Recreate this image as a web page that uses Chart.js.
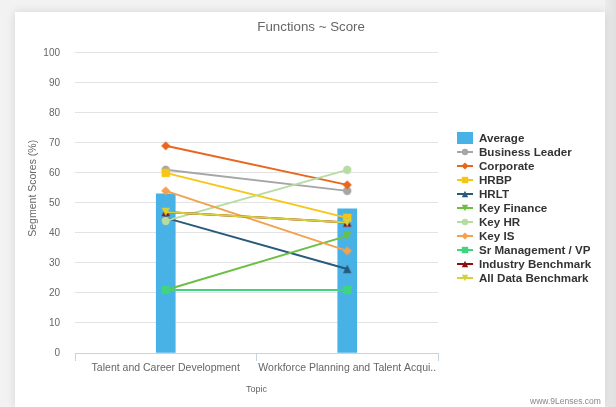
<!DOCTYPE html>
<html>
<head>
<meta charset="utf-8">
<script src="https://cdn.jsdelivr.net/npm/chart.js@4/dist/chart.umd.min.js"></script>
<style>
  html, body { margin:0; padding:0; width:616px; height:407px; overflow:hidden; background:#f2f2f2; }
  #strip { position:absolute; left:605px; top:0; width:11px; height:407px; background:linear-gradient(to right,#ececec,#e0e0e0); }
  #card { position:absolute; left:15px; top:12px; width:590px; height:395px; background:#fff; box-shadow:0 0 9px rgba(0,0,0,0.12); }
  #c { position:absolute; left:0; top:0; }
  #wm { position:absolute; left:515px; top:384px; font:8.5px Arial, 'Liberation Sans', sans-serif; color:#888; line-height:11px; white-space:nowrap; }
</style>
</head>
<body>
<div id="strip"></div>
<div id="card">
  <canvas id="c" width="590" height="395"></canvas>
  <div id="wm">www.9Lenses.com</div>
</div>
<script>
// ---- data ----
const categories = ['Talent and Career Development', 'Workforce Planning and Talent Acqui..'];
const average = [53, 48];
const businessLeader = [61, 54];
const corporate = [69, 56];
const hrbp = [60, 45];
const hrlt = [45, 28];
const keyFinance = [21, 39];
const keyHR = [44, 61];
const keyIS = [54, 34];
const srManagement = [21, 21];
const industryBenchmark = [47, 43.5];
const allDataBenchmark = [47, 43.5];
const yTicks = [0, 10, 20, 30, 40, 50, 60, 70, 80, 90, 100];

// ---- styles ----
const F = "Arial, 'Liberation Sans', sans-serif";
const lineDefs = [
  { label: 'Business Leader',     data: businessLeader,    color: '#a6a6a6', shape: 'circle'   },
  { label: 'Corporate',           data: corporate,         color: '#e8661e', shape: 'diamond'  },
  { label: 'HRBP',                data: hrbp,              color: '#f7c516', shape: 'square'   },
  { label: 'HRLT',                data: hrlt,              color: '#2a5a7b', shape: 'triUp'    },
  { label: 'Key Finance',         data: keyFinance,        color: '#6cbf45', shape: 'triDown'  },
  { label: 'Key HR',              data: keyHR,             color: '#b6dca2', shape: 'circle'   },
  { label: 'Key IS',              data: keyIS,             color: '#f3a14d', shape: 'diamond'  },
  { label: 'Sr Management / VP',  data: srManagement,      color: '#3fd47f', shape: 'square'   },
  { label: 'Industry Benchmark',  data: industryBenchmark, color: '#8c0e0e', shape: 'triUp'    },
  { label: 'All Data Benchmark',  data: allDataBenchmark,  color: '#d6d13a', shape: 'triDown'  }
];
const barColor = '#48b2e6';

// marker shape inside a box of half-size r centred on (x, y)
function drawShape(g, shape, x, y, r) {
  g.beginPath();
  if (shape === 'circle') {
    g.arc(x, y, r, 0, Math.PI * 2);
  } else if (shape === 'square') {
    g.rect(x - r, y - r, 2 * r, 2 * r);
  } else if (shape === 'diamond') {
    g.moveTo(x, y - r); g.lineTo(x + r, y); g.lineTo(x, y + r); g.lineTo(x - r, y);
  } else if (shape === 'triUp') {
    g.moveTo(x, y - r); g.lineTo(x + r, y + r); g.lineTo(x - r, y + r);
  } else if (shape === 'triDown') {
    g.moveTo(x - r, y - r); g.lineTo(x + r, y - r); g.lineTo(x, y + r);
  }
  g.closePath();
  g.fill();
}

function makeMarker(color, shape) {
  const r = shape === 'circle' ? 4.2 : (shape === 'diamond' ? 4.6 : 4.2);
  const s = 12;
  const c = document.createElement('canvas');
  c.width = s; c.height = s;
  const g = c.getContext('2d');
  g.fillStyle = color;
  drawShape(g, shape, s / 2, s / 2, r);
  return c;
}

function makeIcon(color, shape, isBar) {
  const c = document.createElement('canvas');
  c.width = 16; c.height = 12;
  const g = c.getContext('2d');
  if (isBar) {
    g.fillStyle = color;
    g.fillRect(0, 0, 16, 12);
    return c;
  }
  g.strokeStyle = color; g.lineWidth = 2;
  g.beginPath(); g.moveTo(0, 6); g.lineTo(16, 6); g.stroke();
  g.fillStyle = color;
  drawShape(g, shape, 8, 6, shape === 'diamond' ? 3.6 : 3.2);
  return c;
}

const datasets = [{
  type: 'bar',
  label: 'Average',
  data: average,
  backgroundColor: barColor,
  borderWidth: 0,
  barThickness: 19,
  order: 50,
  _icon: makeIcon(barColor, null, true)
}];
lineDefs.forEach((d, i) => {
  datasets.push({
    type: 'line',
    label: d.label,
    data: d.data,
    borderColor: d.color,
    backgroundColor: d.color,
    borderWidth: 2,
    pointStyle: makeMarker(d.color, d.shape),
    pointRadius: 5,
    fill: false,
    tension: 0,
    order: lineDefs.length - i,
    _icon: makeIcon(d.color, d.shape, false)
  });
});

// legend drawn at the right of the plot, in dataset order
const sideLegend = {
  id: 'sideLegend',
  afterDraw(chart) {
    const ctx = chart.ctx;
    const ca = chart.chartArea;
    const step = 14;
    const n = chart.data.datasets.length;
    const mid = (ca.top + ca.bottom) / 2 + 5.5;
    const y0 = mid - (n - 1) * step / 2;
    const xIcon = ca.right + 19;
    const xText = ca.right + 41;
    ctx.save();
    ctx.font = 'bold 11.6px ' + F;
    ctx.textBaseline = 'middle';
    ctx.textAlign = 'left';
    ctx.fillStyle = '#333';
    chart.data.datasets.forEach((ds, i) => {
      const cy = y0 + i * step;
      ctx.drawImage(ds._icon, Math.round(xIcon), Math.round(cy - 6));
      ctx.fillText(ds.label, xText, cy);
    });
    ctx.restore();
  }
};

new Chart(document.getElementById('c'), {
  type: 'bar',
  data: { labels: categories, datasets: datasets },
  plugins: [sideLegend],
  options: {
    responsive: false,
    animation: false,
    devicePixelRatio: 1,
    layout: { padding: { left: 4, right: 1.8, top: 0, bottom: 1 } },
    plugins: {
      tooltip: { enabled: false },
      legend: { display: false },
      title: {
        display: true,
        text: 'Functions ~ Score',
        color: '#666',
        font: { size: 13.3, weight: 'normal', family: F },
        padding: { top: 7, bottom: 17.8 }
      }
    },
    scales: {
      x: {
        offset: true,
        afterFit: (scale) => { scale.paddingLeft = 0; scale.paddingRight = 0; },
        grid: { display: true, drawOnChartArea: false, drawTicks: true, tickLength: 8, color: '#c6d4e2', offset: true },
        border: { display: true, color: '#c6d4e2' },
        ticks: { color: '#666', font: { size: 10.5, family: F }, padding: 1, maxRotation: 0, autoSkip: false },
        title: { display: true, text: 'Topic', color: '#666', font: { size: 9, family: F }, padding: { top: 9, bottom: 10.6 } }
      },
      y: {
        min: 0, max: 100,
        afterBuildTicks: (scale) => { scale.ticks = yTicks.map(v => ({ value: v })); },
        afterFit: (scale) => { scale.width = 56; },
        grid: { color: '#e3e3e3', drawTicks: false },
        border: { display: false },
        ticks: { color: '#666', font: { size: 10, family: F }, padding: 15 },
        title: {
          display: true,
          text: '\u00a0\u00a0\u00a0\u00a0\u00a0\u00a0\u00a0\u00a0\u00a0\u00a0Segment Scores (%)',
          color: '#666',
          font: { size: 10.5, family: F },
          padding: { top: 7.7, bottom: 4 }
        }
      },
      // empty right-hand box that reserves the room used by the legend
      legendSpace: {
        type: 'linear',
        axis: 'y',
        position: 'right',
        display: true,
        grid: { display: false, drawTicks: false },
        border: { display: false },
        ticks: { display: false },
        afterFit: (scale) => { scale.width = 165.2; }
      }
    }
  }
});
</script>
</body>
</html>
